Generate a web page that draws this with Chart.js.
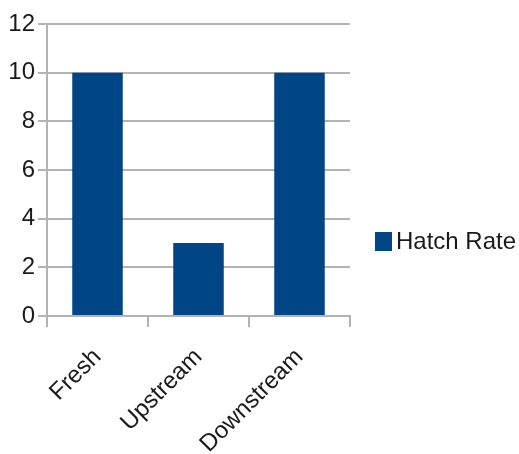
<!DOCTYPE html>
<html>
<head>
<meta charset="utf-8">
<script src="https://cdn.jsdelivr.net/npm/chart.js@4/dist/chart.umd.min.js"></script>
<style>
  html, body { margin: 0; padding: 0; background: #fff; }
  #wrap { width: 519px; height: 454px; }
</style>
</head>
<body>
<div id="wrap"><canvas id="c" width="519" height="454"></canvas></div>
<script>
// Hatch rate per water source
const categories = ['Fresh', 'Upstream', 'Downstream'];
const hatchRate = [10, 3, 10];
const seriesName = 'Hatch Rate';
const yTicks = [0, 2, 4, 6, 8, 10, 12];

const BAR = '#004586';
const GRID = '#b3b3b3';
const TEXT = '#1a1a1a';
const FONT = { family: '"Liberation Sans", Arial, sans-serif', size: 24 };

// Side legend: a square swatch followed by the series name
const sideLegend = {
  id: 'sideLegend',
  afterDraw(chart) {
    const ctx = chart.ctx;
    const ds = chart.data.datasets[0];
    const x = chart.chartArea.right + 25;
    const cy = 242;
    ctx.save();
    ctx.fillStyle = ds.backgroundColor;
    ctx.fillRect(x, cy - 10, 17, 19);
    ctx.fillStyle = TEXT;
    ctx.font = FONT.size + 'px ' + FONT.family;
    ctx.textBaseline = 'middle';
    ctx.textAlign = 'left';
    ctx.fillText(ds.label, x + 21, cy);
    ctx.restore();
  }
};

new Chart(document.getElementById('c'), {
  type: 'bar',
  data: {
    labels: categories,
    datasets: [{
      label: seriesName,
      data: hatchRate,
      backgroundColor: BAR,
      borderWidth: 0,
      categoryPercentage: 1,
      barPercentage: 0.5
    }]
  },
  options: {
    responsive: false,
    animation: false,
    layout: { padding: { top: 24, right: 169, left: 0, bottom: 0 } },
    plugins: { legend: { display: false }, tooltip: { enabled: false } },
    scales: {
      x: {
        afterFit(scale) { scale.height = 138; },
        grid: {
          offset: true,
          lineWidth: 2,
          color: (c) => (c.index === 0 || c.index === categories.length) ? GRID : 'rgba(0,0,0,0)',
          tickColor: GRID,
          tickLength: 11
        },
        border: { display: true, color: GRID, width: 2 },
        ticks: {
          color: TEXT,
          font: FONT,
          minRotation: 45,
          maxRotation: 45,
          padding: 16,
          autoSkip: false
        }
      },
      y: {
        min: 0,
        max: 12,
        afterFit(scale) { scale.width = 47; },
        afterBuildTicks(scale) { scale.ticks = yTicks.map(v => ({ value: v })); },
        grid: { color: GRID, lineWidth: 2, tickLength: 9 },
        border: { display: true, color: GRID, width: 2 },
        ticks: { color: TEXT, font: FONT, padding: 3 }
      }
    }
  },
  plugins: [sideLegend]
});
</script>
</body>
</html>
